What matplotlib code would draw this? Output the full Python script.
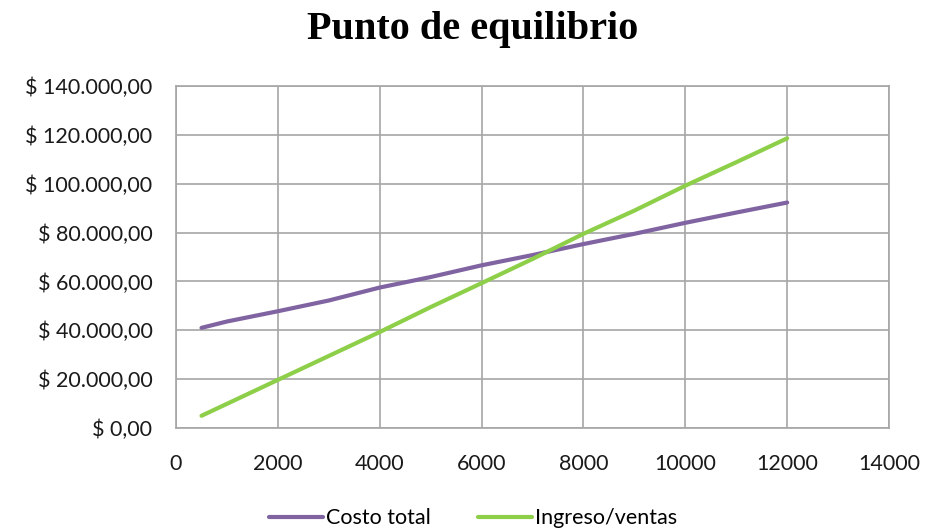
import matplotlib
matplotlib.use("Agg")
from matplotlib import pyplot as plt
from matplotlib.ticker import FuncFormatter

unidades = [500, 1000, 2000, 3000, 4000, 5000, 6000, 7000, 8000, 9000, 10000, 11000, 12000]
costo_total = [41000, 43600, 47800, 52200, 57500, 61800, 66600, 70800, 75300, 79500, 84000, 88200, 92300]
ingreso_ventas = [5000, 9900, 19700, 29500, 39300, 49500, 59300, 69200, 79500, 89000, 99200, 108800, 118600]

x_ticks = [0, 2000, 4000, 6000, 8000, 10000, 12000, 14000]
y_ticks = [0, 20000, 40000, 60000, 80000, 100000, 120000, 140000]


def pesos(v, pos=None):
    s = f"{v:,.2f}".replace(",", "X").replace(".", ",").replace("X", ".")
    return "$ " + s


fig = plt.figure(figsize=(9.28, 5.32), dpi=100)
ax = fig.add_axes([0.1897, 0.1955, 0.7683, 0.6428])

ax.plot(unidades, costo_total, color='#8064A2', lw=3,
        solid_capstyle='round', label='Costo total')
ax.plot(unidades, ingreso_ventas, color='#8DCF48', lw=3,
        solid_capstyle='round', label='Ingreso/ventas')

ax.set_xlim(0, 14000)
ax.set_ylim(0, 140000)
ax.set_xticks(x_ticks)
ax.set_yticks(y_ticks)
ax.yaxis.set_major_formatter(FuncFormatter(pesos))
ax.grid(True, color='#A6A6A6', lw=1.2)
ax.set_axisbelow(True)
for s in ax.spines.values():
    s.set_color('#A6A6A6')
    s.set_linewidth(1.2)
ax.tick_params(length=0, labelsize=15.5, colors='#1a1a1a')
ax.tick_params(axis='x', pad=19)
ax.tick_params(axis='y', pad=17)
for lab in ax.get_xticklabels() + ax.get_yticklabels():
    lab.set_fontfamily('Lato')

fig.text(0.509, 0.944, 'Punto de equilibrio', ha='center', va='center',
         fontsize=29, fontweight='bold', family='Liberation Serif')

fig.legend(loc='center', bbox_to_anchor=(0.51, 0.026), ncol=2, frameon=False,
           handlelength=2.5, columnspacing=2.2, handletextpad=0.15,
           prop={'family': 'Lato', 'size': 15.5})

fig.savefig('out.png', dpi=100)
